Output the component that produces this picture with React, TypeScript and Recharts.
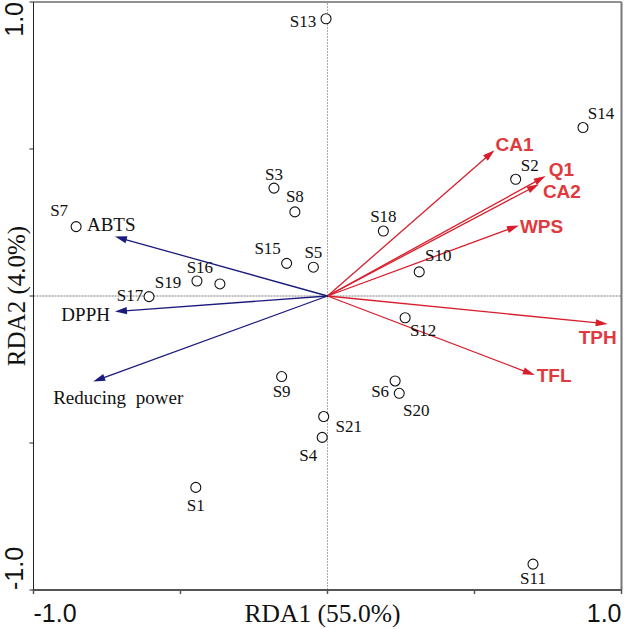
import React from 'react';
import { ScatterChart, Scatter, XAxis, YAxis, ReferenceLine } from 'recharts';

// ---- data ----
const sampleNames = ['S1','S2','S3','S4','S5','S6','S7','S8','S9','S10','S11','S12','S13','S14','S15','S16','S17','S18','S19','S20','S21'];
const sampleX = [-0.448, 0.640, -0.182, -0.018, -0.048, 0.230, -0.855, -0.111, -0.156, 0.312, 0.699, 0.264, -0.005, 0.869, -0.139, -0.366, -0.607, 0.190, -0.444, 0.244, -0.013];
const sampleY = [-0.651, 0.397, 0.367, -0.481, 0.098, -0.289, 0.236, 0.286, -0.274, 0.082, -0.912, -0.074, 0.943, 0.573, 0.111, 0.041, -0.002, 0.221, 0.051, -0.331, -0.410];

const qualityNames = ['CA1','Q1','CA2','WPS','TPH','TFL'];
const qualityX = [0.568, 0.742, 0.719, 0.651, 0.953, 0.705];
const qualityY = [0.496, 0.408, 0.380, 0.240, -0.095, -0.269];

const antioxNames = ['ABTS','DPPH','Reducing power'];
const antioxX = [-0.723, -0.723, -0.797];
const antioxY = [0.202, -0.053, -0.291];

const axisTicks = [-1, -0.5, 0, 0.5, 1];
const tickLabelText: Record<string, string> = { '-1': '-1.0', '1': '1.0' };
const xTitle = 'RDA1 (55.0%)';
const yTitle = 'RDA2 (4.0%)';

// ---- style (label placement relative to mark) ----
const sampleLabelOffset: Record<string, [number, number, string]> = {
  S1: [0, 18, 'middle'], S2: [14, -14, 'middle'], S3: [0, -14, 'middle'], S4: [-14, 18, 'middle'],
  S5: [0, -15, 'middle'], S6: [-15, 11, 'middle'], S7: [-17, -16, 'middle'], S8: [0, -15, 'middle'],
  S9: [0, 15, 'middle'], S10: [19, -16, 'middle'], S11: [0, 14, 'middle'], S12: [18, 13, 'middle'],
  S13: [-23, 3, 'middle'], S14: [18, -14, 'middle'], S15: [-19, -15, 'middle'], S16: [-20, -16, 'middle'],
  S17: [-19, -1, 'middle'], S18: [0, -15, 'middle'], S19: [-29, 1, 'middle'], S20: [17, 17, 'middle'],
  S21: [25, 10, 'middle'],
};
const varLabelOffset: Record<string, [number, number, string]> = {
  CA1: [1, -6, 'start'], Q1: [3, -7, 'start'], CA2: [4, 7, 'start'], WPS: [1, 1, 'start'],
  TPH: [9, 14, 'end'], TFL: [2, 0, 'start'],
  ABTS: [-28, -12, 'start'], DPPH: [-5, 3, 'end'], 'Reducing power': [-40, 16, 'start'],
};

const RED = '#d81e2c';
const RED_TEXT = '#e03a3e';
const BLUE = '#1b1b7e';
const SERIF = '"Liberation Serif", "Times New Roman", serif';
const SANS = '"Liberation Sans", Arial, sans-serif';

const samples = sampleNames.map((name, i) => ({ name, x: sampleX[i], y: sampleY[i] }));

const arrowLine = (color: string) => (props: any) => {
  const pts = props.points || [];
  if (pts.length < 2) return <g />;
  const { x: x1, y: y1 } = pts[0];
  const { x: x2, y: y2 } = pts[1];
  const ang = Math.atan2(y2 - y1, x2 - x1);
  const L = 12, W = 3.6;
  const bx = x2 - L * Math.cos(ang), by = y2 - L * Math.sin(ang);
  const px = -Math.sin(ang) * W, py = Math.cos(ang) * W;
  return (
    <g>
      <line x1={x1} y1={y1} x2={bx + 2 * Math.cos(ang)} y2={by + 2 * Math.sin(ang)} stroke={color} strokeWidth={1.3} />
      <polygon points={`${x2},${y2} ${bx + px},${by + py} ${bx - px},${by - py}`} fill={color} />
    </g>
  );
};

const arrowLabel = (color: string, bold: boolean, size: number, font: string) => (props: any) => {
  const { cx, cy, payload } = props;
  if (!payload || !payload.name) return <g />;
  const [dx, dy, anchor] = varLabelOffset[payload.name] || [0, 0, 'start'];
  return (
    <text x={cx + dx} y={cy + dy} textAnchor={anchor as any} dominantBaseline="central"
      fill={color} fontFamily={font} fontSize={size} fontWeight={bold ? 'bold' : 'normal'}
      style={{ wordSpacing: 5 }}>
      {payload.name}
    </text>
  );
};

const sampleShape = (props: any) => {
  const { cx, cy, payload } = props;
  const [dx, dy, anchor] = sampleLabelOffset[payload.name] || [0, 0, 'middle'];
  return (
    <g>
      <circle cx={cx} cy={cy} r={5} fill="#fff" stroke="#111" strokeWidth={1.1} />
      <text x={cx + dx} y={cy + dy} textAnchor={anchor as any} dominantBaseline="central"
        fill="#111" fontFamily={SERIF} fontSize={17}>{payload.name}</text>
    </g>
  );
};

const XTick = (props: any) => {
  const { x, y, payload } = props;
  const label = tickLabelText[String(payload.value)];
  const v = payload.value;
  return (
    <g>
      {label ? (
        <text x={x} y={y + 26} textAnchor={v < 0 ? 'start' : 'end'} fontFamily={SANS} fontSize={25} fill="#111">{label}</text>
      ) : null}
      {v === 0 ? (
        <text x={x - 5} y={y + 26} textAnchor="middle" fontFamily={SERIF} fontSize={25.5} fill="#111">{xTitle}</text>
      ) : null}
    </g>
  );
};

const YTick = (props: any) => {
  const { x, y, payload } = props;
  const label = tickLabelText[String(payload.value)];
  const v = payload.value;
  const bx = x - 5;
  return (
    <g>
      {label ? (
        <text x={bx} y={y} transform={`rotate(-90 ${bx} ${y})`} textAnchor={v < 0 ? 'start' : 'end'}
          fontFamily={SANS} fontSize={25} fill="#111">{label}</text>
      ) : null}
      {v === 0 ? (
        <text x={bx + 2} y={y} transform={`rotate(-90 ${bx + 2} ${y})`} textAnchor="middle"
          fontFamily={SERIF} fontSize={25} fill="#111">{yTitle}</text>
      ) : null}
    </g>
  );
};

export default function App() {
  return (
    <div style={{ position: 'absolute', left: 0, top: 0, width: 625, height: 629, background: '#fff' }}>
      <ScatterChart width={625} height={629} margin={{ top: 2, right: 3.5, bottom: 0, left: 0.5 }}>
        <XAxis type="number" dataKey="x" domain={[-1, 1]} ticks={axisTicks} allowDataOverflow
          height={39} tickSize={4} tickMargin={2} interval={0}
          axisLine={{ stroke: '#555', strokeWidth: 2 }} tickLine={{ stroke: '#555', strokeWidth: 1.5 }} tick={<XTick />} />
        <YAxis type="number" dataKey="y" domain={[-1, 1]} ticks={axisTicks} allowDataOverflow
          width={33} tickSize={4} tickMargin={2} interval={0}
          axisLine={{ stroke: '#222', strokeWidth: 1 }} tickLine={{ stroke: '#222', strokeWidth: 1 }} tick={<YTick />} />
        <ReferenceLine y={1} stroke="#222" strokeWidth={1} />
        <ReferenceLine x={1} stroke="#777" strokeWidth={2} />
        <ReferenceLine x={0} stroke="#aaa" strokeWidth={1} strokeDasharray="2 1" />
        <ReferenceLine y={0} stroke="#555" strokeWidth={0.8} strokeDasharray="2 1" />
        {qualityNames.map((n, i) => (
          <Scatter key={n} data={[{ x: 0, y: 0, name: '' }, { x: qualityX[i], y: qualityY[i], name: n }]}
            line={arrowLine(RED)} shape={arrowLabel(RED_TEXT, true, 19, SANS)} isAnimationActive={false} />
        ))}
        {antioxNames.map((n, i) => (
          <Scatter key={n} data={[{ x: 0, y: 0, name: '' }, { x: antioxX[i], y: antioxY[i], name: n }]}
            line={arrowLine(BLUE)} shape={arrowLabel('#111', false, 19, SERIF)} isAnimationActive={false} />
        ))}
        <Scatter data={samples} shape={sampleShape} isAnimationActive={false} />
      </ScatterChart>
    </div>
  );
}
